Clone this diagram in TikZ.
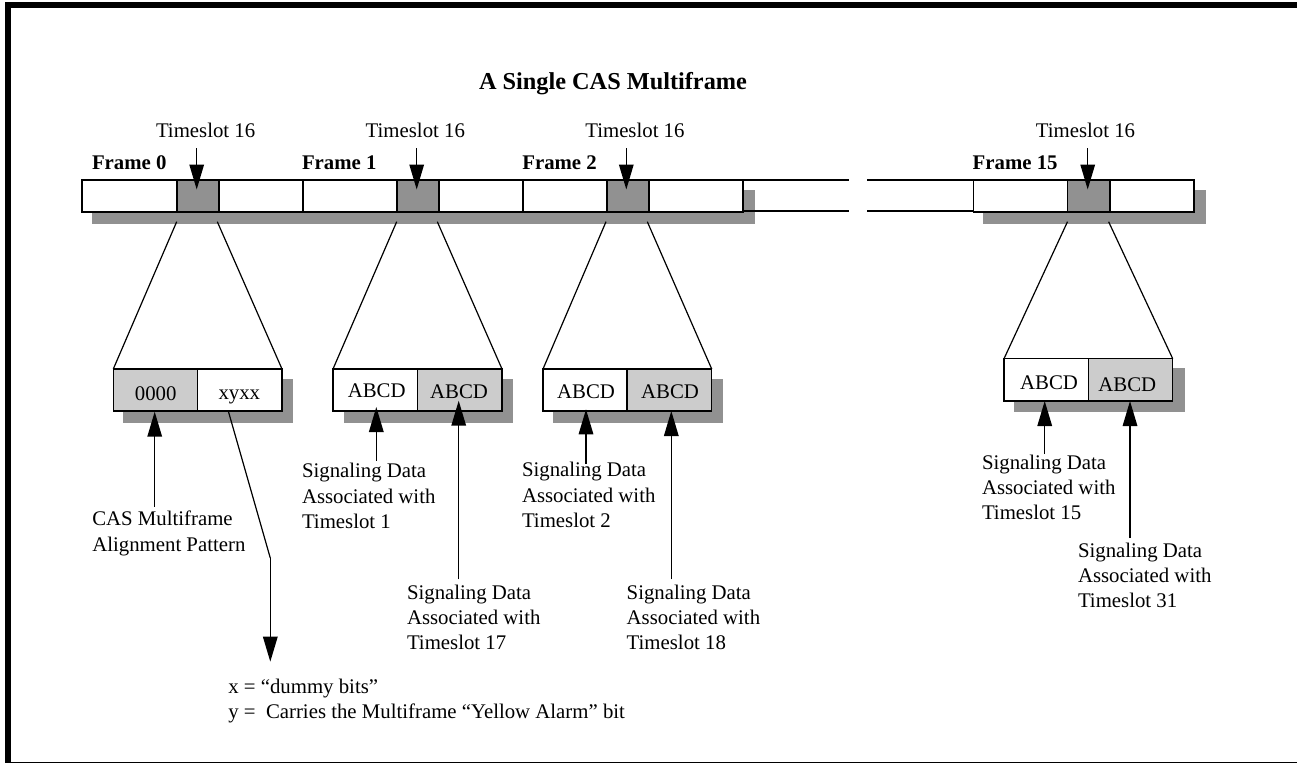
\documentclass[tikz,border=0pt]{standalone}
\usepackage{fontspec}
\setmainfont{Liberation Serif}
\usetikzlibrary{arrows.meta}
\definecolor{darkslot}{HTML}{919191}
\definecolor{lightslot}{HTML}{CCCCCC}
\tikzset{
  cellbox/.style={draw=black,line width=1.4pt,fill=white,anchor=north west,inner sep=0pt,outer sep=0pt},
  darkcell/.style={cellbox,fill=darkslot},
  lightcell/.style={cellbox,fill=lightslot},
  shadowbox/.style={fill=darkslot,draw=none},
  border/.style={fill=black,draw=none},
  txt/.style={font=\fontsize{20.8}{25.3}\selectfont,inner sep=0pt,outer sep=0pt},
  oneline/.style={txt,anchor=base west},
  cellcap/.style={txt,anchor=base},
  boldline/.style={oneline,font=\fontsize{20.8}{25.3}\selectfont\bfseries},
  titleline/.style={oneline,font=\fontsize{24.3}{28}\selectfont\bfseries},
  multiline/.style={txt,anchor=north west,align=left,yshift=17.71pt},
  funnel/.style={draw=black,line width=1.2pt},
  contline/.style={draw=black,line width=1.4pt},
  pointer/.style={draw=black,line width=1.5pt,-{Triangle[length=25pt,width=14.5pt]}}
}
\begin{document}
\begin{tikzpicture}[x=1pt,y=-1pt]
\useasboundingbox (0,0) rectangle (1297,763);
\fill[white] (0,0) rectangle (1297,763);
% page border
\fill[border] (5,2) rectangle (1297,8);
\fill[border] (5,2) rectangle (11,763);
\fill[border] (5,761.5) rectangle (1297,763);
% title
\node[titleline] (title) at (479,89.3) {A Single CAS Multiframe};
% shadows
\fill[shadowbox] (92,190) rectangle (755,224);
\fill[shadowbox] (983,190) rectangle (1206,224);
\fill[shadowbox] (123,379) rectangle (293,422.7);
\fill[shadowbox] (344,379) rectangle (513,422.7);
\fill[shadowbox] (553,379) rectangle (723,422.7);
\fill[shadowbox] (1014,368) rectangle (1185,411.7);
% frame strip
\node[cellbox,minimum width=95pt,minimum height=32pt] (f0a) at (82,180) {};
\node[darkcell,minimum width=42pt,minimum height=32pt] (f0s) at (177,180) {};
\node[cellbox,minimum width=84pt,minimum height=32pt] (f0b) at (219,180) {};
\node[cellbox,minimum width=94pt,minimum height=32pt] (f1a) at (303,180) {};
\node[darkcell,minimum width=42pt,minimum height=32pt] (f1s) at (397,180) {};
\node[cellbox,minimum width=84pt,minimum height=32pt] (f1b) at (439,180) {};
\node[cellbox,minimum width=84pt,minimum height=32pt] (f2a) at (523,180) {};
\node[darkcell,minimum width=42pt,minimum height=32pt] (f2s) at (607,180) {};
\node[cellbox,minimum width=94pt,minimum height=32pt] (f2b) at (649,180) {};
\node[cellbox,minimum width=94pt,minimum height=32pt] (f15a) at (973.4,180) {};
\node[darkcell,minimum width=42.6pt,minimum height=32pt] (f15s) at (1067.4,180) {};
\node[cellbox,minimum width=84pt,minimum height=32pt] (f15b) at (1110,180) {};
% continuation
\coordinate (brkAt) at (848.5,180);
\coordinate (brkAb) at (848.5,211);
\coordinate (brkBt) at (867,180);
\coordinate (brkBb) at (867,211);
\draw[contline] (f2b.north east) -- (brkAt);
\draw[contline] (f2b.east |- brkAb) -- (brkAb);
\draw[contline] (brkBt) -- (f15a.north west);
\draw[contline] (brkBb) -- (f15a.west |- brkBb);
% expanded slots
\node[lightcell,minimum width=84pt,minimum height=42pt] (b0a) at (113.3,369) {};
\node[cellbox,minimum width=84.7pt,minimum height=42pt] (b0b) at (197.3,369) {};
\node[cellbox,minimum width=84.5pt,minimum height=42pt] (b1a) at (333,369) {};
\node[lightcell,minimum width=84.5pt,minimum height=42pt] (b1b) at (417.5,369) {};
\node[cellbox,minimum width=84pt,minimum height=42pt] (b2a) at (543,369) {};
\node[lightcell,minimum width=84.7pt,minimum height=42pt] (b2b) at (627,369) {};
\node[cellbox,minimum width=84.7pt,minimum height=42.3pt] (b15a) at (1004,358.7) {};
\node[lightcell,minimum width=84pt,minimum height=42.3pt] (b15b) at (1088.7,358.7) {};
\node[cellcap] (c0a) at (155.7,400) {0000};
\node[cellcap] (c0b) at (239.3,399.5) {xyxx};
\node[cellcap] (c1a) at (376.7,397) {ABCD};
\node[cellcap] (c1b) at (459,398) {ABCD};
\node[cellcap] (c2a) at (586,398) {ABCD};
\node[cellcap] (c2b) at (670,398) {ABCD};
\node[cellcap] (c15a) at (1049,389) {ABCD};
\node[cellcap] (c15b) at (1127.3,391) {ABCD};
% funnels
\coordinate (t0l) at (176.7,221.7); \coordinate (t0r) at (217.3,221.7);
\coordinate (t1l) at (396.7,221.7); \coordinate (t1r) at (437.3,221.7);
\coordinate (t2l) at (606,221.7);   \coordinate (t2r) at (647.3,221.7);
\coordinate (t15l) at (1067.5,221.7); \coordinate (t15r) at (1108.6,221.7);
\draw[funnel] (t0l) -- (b0a.north west);
\draw[funnel] (t0r) -- (b0b.north east);
\draw[funnel] (t1l) -- (b1a.north west);
\draw[funnel] (t1r) -- (b1b.north east);
\draw[funnel] (t2l) -- (b2a.north west);
\draw[funnel] (t2r) -- (b2b.north east);
\draw[funnel] (t15l) -- (b15a.north west);
\draw[funnel] (t15r) -- (b15b.north east);
% top labels
\node[oneline] (ts0) at (156,137.7) {Timeslot 16};
\node[oneline] (ts1) at (365.7,137.7) {Timeslot 16};
\node[oneline] (ts2) at (585.3,137.7) {Timeslot 16};
\node[oneline] (ts15) at (1035.9,137.7) {Timeslot 16};
\node[boldline] (fr0) at (92,169) {Frame 0};
\node[boldline] (fr1) at (302,169) {Frame 1};
\node[boldline] (fr2) at (522.3,169) {Frame 2};
\node[boldline] (fr15) at (972.7,169) {Frame 15};
% timeslot arrows
\coordinate (a0t) at (196.7,148);  \coordinate (a0h) at (196.7,189.5);
\coordinate (a1t) at (416.7,148);  \coordinate (a1h) at (416.7,189.5);
\coordinate (a2t) at (626.3,148);  \coordinate (a2h) at (626.3,189.5);
\coordinate (a15t) at (1087.7,148); \coordinate (a15h) at (1087.7,189.5);
\draw[pointer] (a0t) -- (a0h);
\draw[pointer] (a1t) -- (a1h);
\draw[pointer] (a2t) -- (a2h);
\draw[pointer] (a15t) -- (a15h);
% lower labels
\node[multiline] (lcas) at (92.3,525.7) {\strut CAS Multiframe\\Alignment Pattern};
\node[multiline] (ls1) at (302,477.7) {\strut Signaling Data\\Associated with\\Timeslot 1};
\node[multiline] (ls17) at (407,599) {\strut Signaling Data\\Associated with\\Timeslot 17};
\node[multiline] (ls2) at (522,476.7) {\strut Signaling Data\\Associated with\\Timeslot 2};
\node[multiline] (ls18) at (626.7,599) {\strut Signaling Data\\Associated with\\Timeslot 18};
\node[multiline] (ls15) at (982,469) {\strut Signaling Data\\Associated with\\Timeslot 15};
\node[multiline] (ls31) at (1078,557) {\strut Signaling Data\\Associated with\\Timeslot 31};
\node[multiline] (lkey) at (228.3,693.3) {\strut x = “dummy bits”\\y =\ \ Carries the Multiframe “Yellow Alarm” bit};
% pointers to cells
\coordinate (pcas) at (154.7,506.7); \coordinate (pcash) at (154.7,411.7);
\coordinate (p1) at (376.3,460.7);   \coordinate (p1h) at (376.3,407);
\coordinate (p17) at (458.7,579.3);  \coordinate (p17h) at (458.7,400.7);
\coordinate (p2) at (586,464);       \coordinate (p2h) at (586,409.3);
\coordinate (p18) at (671.3,579.3);  \coordinate (p18h) at (671.3,411);
\coordinate (p15) at (1044.7,454);   \coordinate (p15h) at (1044.7,401);
\coordinate (p31) at (1130,538);     \coordinate (p31h) at (1130,401);
\draw[pointer] (pcas) -- (pcash);
\draw[pointer] (p1) -- (p1h);
\draw[pointer] (p17) -- (p17h);
\draw[pointer] (p2) -- (p2h);
\draw[pointer] (p18) -- (p18h);
\draw[pointer] (p15) -- (p15h);
\draw[pointer] (p31) -- (p31h);
% dummy-bit leader
\coordinate (xs) at (228.3,411);
\coordinate (xm) at (270.3,558);
\coordinate (xh) at (270.3,661.7);
\draw[funnel] (xs) -- (xm);
\draw[pointer] (xm) -- (xh);
\end{tikzpicture}
\end{document}
